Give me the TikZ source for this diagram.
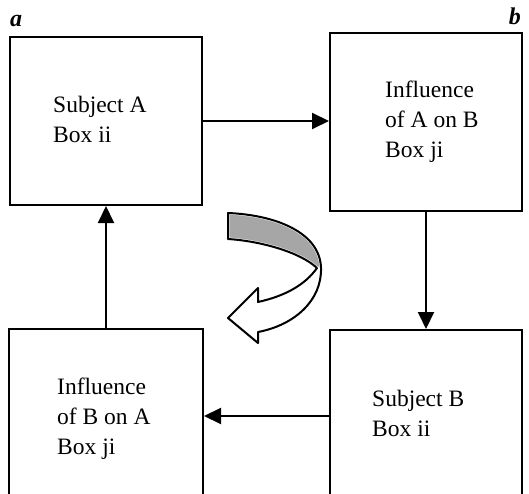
\documentclass[tikz,border=0pt]{standalone}
\usepackage{fontspec}
\setmainfont{Liberation Serif}
\usepackage{tikz}
\usetikzlibrary{
    arrows.meta,
    calc,
    positioning
}

\begin{document}
\begin{tikzpicture}[x=1pt, y=-1pt,
        font=\fontsize{23.5}{30}\selectfont,
        box/.style={draw, line width=2pt, inner sep=0pt},
        txt/.style={align=left, inner sep=0pt, anchor=west},
        tag/.style={font=\fontsize{24}{24}\selectfont\bfseries\itshape, inner sep=0pt},
        conn/.style={-{Triangle[length=17pt, width=16pt]}, line width=2pt}]
                                    \useasboundingbox (0, 0) rectangle (529, 494);
                                    \clip (0, 0) rectangle (529, 494);
                                    \node[box, minimum width=192pt, minimum height=168pt] (boxA) at (106, 121) {};
                                    \node[box, minimum width=192pt, minimum height=178pt] (boxAB) at (426, 122) {};
                                    \node[box, minimum width=194pt, minimum height=190pt] (boxBA) at (106, 424) {};
                                    \node[box, minimum width=192pt, minimum height=190pt] (boxB) at (426, 425) {};
                                    \node[txt] (txtA) at (53, 119) {Subject A\\Box ii};
                                    \node[txt] (txtAB) at (385, 122) {Influence\\of A on B\\Box ji};
                                    \node[txt] (txtBA) at (57, 418.5) {Influence\\of B on A\\Box ji};
                                    \node[txt] (txtB) at (372, 413.5) {Subject B\\Box ii};
                                    \node[tag, anchor=base west] (la) at (10, 27) {a};
                                    \node[tag, anchor=base east] (lb) at (521, 25) {b};
                                    \coordinate (jB) at ($(boxB.west)+(0, -9)$);
                                    \draw[conn] (boxA.east) -- (boxA.east -| boxAB.west);
                                    \draw[conn] (boxAB.south) -- (boxB.north);
                                    \draw[conn] (jB) -- (jB -| boxBA.east);
                                    \draw[conn] (boxBA.north) -- (boxBA.north |- boxA.south);
                                    % turning ribbon between the boxes
                                    \fill[white] (228, 213) .. controls (275, 215) and (320, 232) .. (321, 268)
                                    .. controls (322, 300) and (295, 325) .. (258, 332) -- (258, 343) -- (228, 318)
                                    -- (258, 288) -- (258, 302) .. controls (285, 296) and (305, 285) .. (317, 268)
                                    .. controls (300, 252) and (260, 241) .. (228, 239) -- cycle;
                                    \filldraw[fill=black!35, draw=white, line width=3pt] (228, 213) .. controls (275, 215) and (320, 232) .. (321, 268)
                                    -- (317, 268) .. controls (300, 252) and (260, 241) .. (228, 239) -- cycle;
                                    \draw[line width=2pt, line join=round] (228, 213) .. controls (275, 215) and (320, 232) .. (321, 268)
                                    .. controls (322, 300) and (295, 325) .. (258, 332) -- (258, 343) -- (228, 318)
                                    -- (258, 288) -- (258, 302) .. controls (285, 296) and (305, 285) .. (317, 268)
                                    .. controls (300, 252) and (260, 241) .. (228, 239) -- cycle;
                                \end{tikzpicture}
\end{document}
